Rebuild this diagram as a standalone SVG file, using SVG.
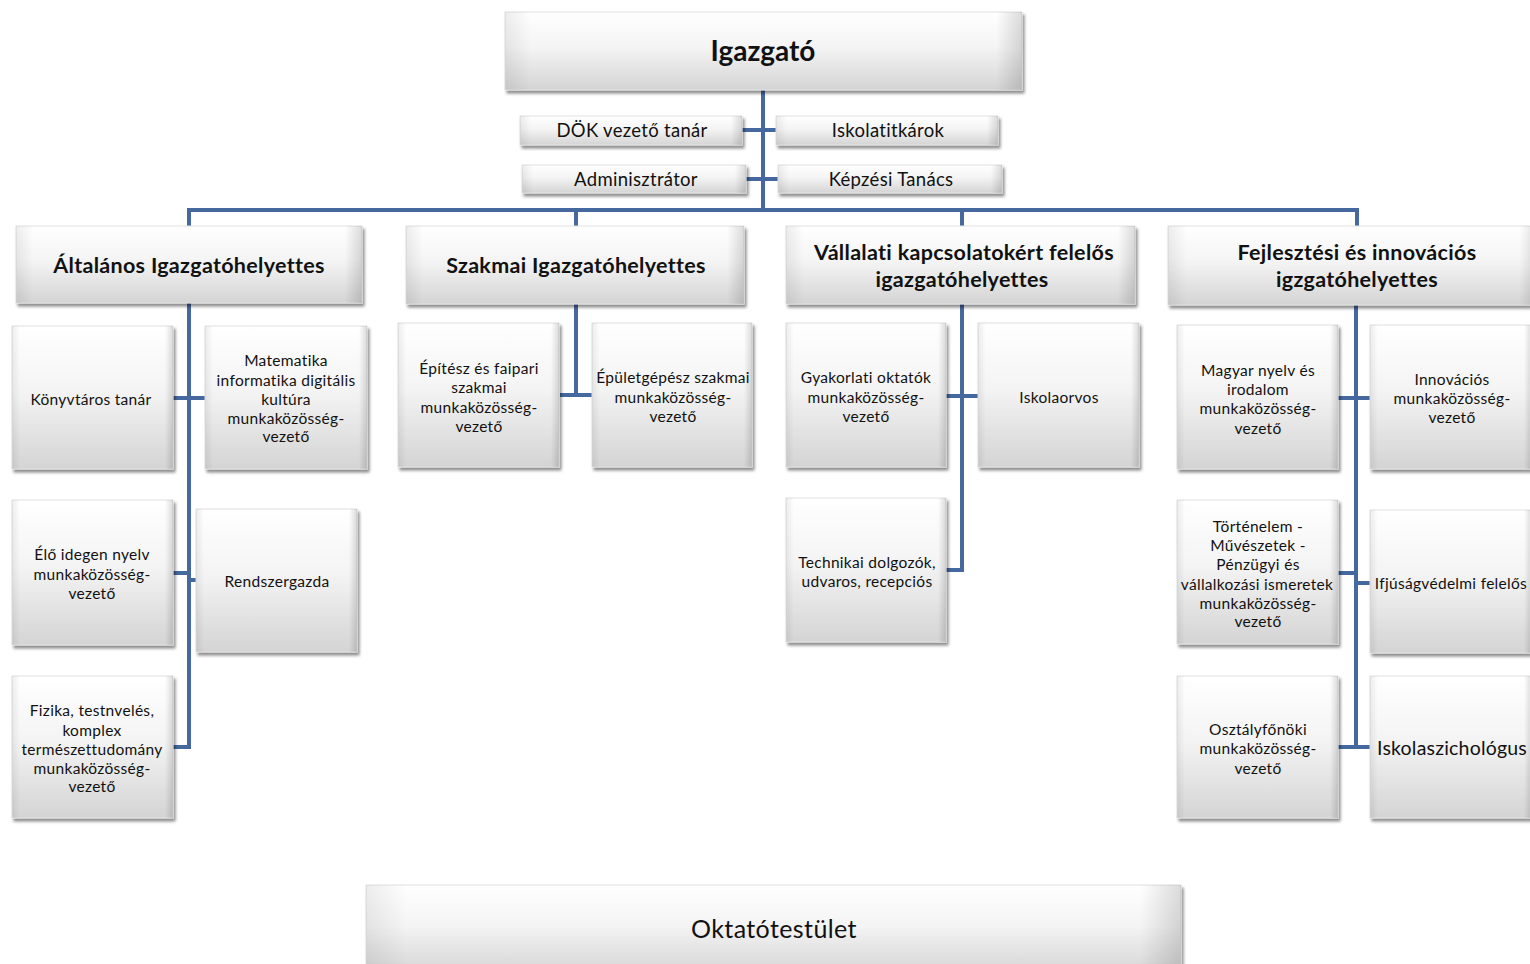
<svg xmlns="http://www.w3.org/2000/svg" width="1530" height="964" viewBox="0 0 1530 964">
<defs>
<linearGradient id="gv" x1="0" y1="0" x2="0" y2="1">
<stop offset="0" stop-color="#ffffff"/>
<stop offset="0.45" stop-color="#f4f4f4"/>
<stop offset="1" stop-color="#d4d4d4"/>
</linearGradient>
<linearGradient id="gh" x1="0" y1="0" x2="1" y2="0">
<stop offset="0" stop-color="#000" stop-opacity="0.07"/>
<stop offset="0.05" stop-color="#000" stop-opacity="0"/>
<stop offset="0.95" stop-color="#000" stop-opacity="0"/>
<stop offset="1" stop-color="#000" stop-opacity="0.14"/>
</linearGradient>
<filter id="sh" x="-10%" y="-10%" width="125%" height="130%">
<feDropShadow dx="2" dy="3" stdDeviation="1.8" flood-color="#000" flood-opacity="0.45"/>
</filter>
</defs>
<style>
.b{fill:url(#gv);stroke:#e2e2e2;stroke-width:1;filter:url(#sh)}
.o{fill:url(#gh)}
text{font-family:Lato,"Open Sans","Liberation Sans",sans-serif;fill:#111;text-anchor:middle;dominant-baseline:central}
.s{font-size:15.5px;letter-spacing:0.3px}
.m{font-size:18.5px;letter-spacing:0.3px}
.h{font-size:21.5px;font-weight:bold;letter-spacing:0.3px}
.t{font-size:28px;font-weight:bold}
.big{font-size:19.5px;letter-spacing:0.2px}
.ok{font-size:25px;letter-spacing:0.4px}
.c{fill:none;stroke:#45699f;stroke-width:4}
</style>
<rect width="1530" height="964" fill="#ffffff"/>

<g id="connectors">
<path class="c" d="M763 90V210"/>
<path class="c" d="M742 130H776"/>
<path class="c" d="M746 179H778"/>
<path class="c" d="M189 226V210H1357V226"/>
<path class="c" d="M576 210V226"/>
<path class="c" d="M962 210V226"/>
<path class="c" d="M189 303V747H173"/>
<path class="c" d="M173 398H205"/>
<path class="c" d="M173 573H189"/>
<path class="c" d="M189 580H196"/>
<path class="c" d="M576 304V395H560"/>
<path class="c" d="M576 395H592"/>
<path class="c" d="M962 304V570H946"/>
<path class="c" d="M946 396H978"/>
<path class="c" d="M1356 305V747H1338"/>
<path class="c" d="M1356 747H1370"/>
<path class="c" d="M1338 398H1370"/>
<path class="c" d="M1338 573H1356"/>
<path class="c" d="M1356 583H1370"/>
</g>

<g id="igazgato"><rect class="b" x="505" y="12" width="517" height="78"/><rect class="o" x="505" y="12" width="517" height="78"/><text class="t" x="763" y="50">Igazgató</text></g>

<g id="dok"><rect class="b" x="520" y="116" width="222" height="29"/><rect class="o" x="520" y="116" width="222" height="29"/><text class="m" x="632" y="130">DÖK vezető tanár</text></g>
<g id="iskolatitkarok"><rect class="b" x="776" y="116" width="222" height="29"/><rect class="o" x="776" y="116" width="222" height="29"/><text class="m" x="888" y="130">Iskolatitkárok</text></g>
<g id="adminisztrator"><rect class="b" x="522" y="165" width="224" height="28"/><rect class="o" x="522" y="165" width="224" height="28"/><text class="m" x="636" y="179">Adminisztrátor</text></g>
<g id="kepzesi"><rect class="b" x="778" y="165" width="224" height="28"/><rect class="o" x="778" y="165" width="224" height="28"/><text class="m" x="891" y="179">Képzési Tanács</text></g>

<g id="altalanos"><rect class="b" x="16" y="226" width="346" height="77"/><rect class="o" x="16" y="226" width="346" height="77"/><text class="h" x="189" y="265">Általános Igazgatóhelyettes</text></g>
<g id="szakmai"><rect class="b" x="406" y="226" width="338" height="78"/><rect class="o" x="406" y="226" width="338" height="78"/><text class="h" x="576" y="265">Szakmai  Igazgatóhelyettes</text></g>
<g id="vallalati"><rect class="b" x="786" y="226" width="349" height="78"/><rect class="o" x="786" y="226" width="349" height="78"/><text class="h" x="964" y="252">Vállalati kapcsolatokért  felelős</text><text class="h" x="962" y="279">igazgatóhelyettes</text></g>
<g id="fejlesztesi"><rect class="b" x="1168" y="226" width="370" height="79"/><rect class="o" x="1168" y="226" width="370" height="79"/><text class="h" x="1357" y="252">Fejlesztési és innovációs</text><text class="h" x="1357" y="279">igzgatóhelyettes</text></g>

<g id="konyvtaros"><rect class="b" x="12" y="326" width="161" height="143"/><rect class="o" x="12" y="326" width="161" height="143"/><text class="s" x="91" y="399">Könyvtáros tanár</text></g>
<g id="matematika"><rect class="b" x="205" y="326" width="162" height="143"/><rect class="o" x="205" y="326" width="162" height="143"/><text class="s" x="286" y="360">Matematika</text><text class="s" x="286" y="380">informatika digitális</text><text class="s" x="286" y="399">kultúra</text><text class="s" x="286" y="418">munkaközösség-</text><text class="s" x="286" y="436">vezető</text></g>
<g id="elo-idegen"><rect class="b" x="12" y="500" width="161" height="145"/><rect class="o" x="12" y="500" width="161" height="145"/><text class="s" x="92" y="554">Élő idegen nyelv</text><text class="s" x="92" y="574">munkaközösség-</text><text class="s" x="92" y="593">vezető</text></g>
<g id="rendszergazda"><rect class="b" x="196" y="509" width="161" height="143"/><rect class="o" x="196" y="509" width="161" height="143"/><text class="s" x="277" y="581">Rendszergazda</text></g>
<g id="fizika"><rect class="b" x="12" y="676" width="161" height="142"/><rect class="o" x="12" y="676" width="161" height="142"/><text class="s" x="92" y="710">Fizika, testnvelés,</text><text class="s" x="92" y="730">komplex</text><text class="s" x="92" y="749">természettudomány</text><text class="s" x="92" y="768">munkaközösség-</text><text class="s" x="92" y="786">vezető</text></g>

<g id="epitesz"><rect class="b" x="398" y="323" width="161" height="144"/><rect class="o" x="398" y="323" width="161" height="144"/><text class="s" x="479" y="368">Építész és faipari</text><text class="s" x="479" y="387">szakmai</text><text class="s" x="479" y="407">munkaközösség-</text><text class="s" x="479" y="426">vezető</text></g>
<g id="epuletgepesz"><rect class="b" x="592" y="323" width="160" height="144"/><rect class="o" x="592" y="323" width="160" height="144"/><text class="s" x="673" y="377">Épületgépész szakmai</text><text class="s" x="673" y="397">munkaközösség-</text><text class="s" x="673" y="416">vezető</text></g>

<g id="gyakorlati"><rect class="b" x="786" y="323" width="160" height="144"/><rect class="o" x="786" y="323" width="160" height="144"/><text class="s" x="866" y="377">Gyakorlati oktatók</text><text class="s" x="866" y="397">munkaközösség-</text><text class="s" x="866" y="416">vezető</text></g>
<g id="iskolaorvos"><rect class="b" x="978" y="323" width="161" height="144"/><rect class="o" x="978" y="323" width="161" height="144"/><text class="s" x="1059" y="397">Iskolaorvos</text></g>
<g id="technikai"><rect class="b" x="786" y="498" width="160" height="144"/><rect class="o" x="786" y="498" width="160" height="144"/><text class="s" x="867" y="562">Technikai dolgozók,</text><text class="s" x="867" y="581">udvaros, recepciós</text></g>

<g id="magyar"><rect class="b" x="1177" y="325" width="161" height="144"/><rect class="o" x="1177" y="325" width="161" height="144"/><text class="s" x="1258" y="370">Magyar nyelv és</text><text class="s" x="1258" y="389">irodalom</text><text class="s" x="1258" y="408">munkaközösség-</text><text class="s" x="1258" y="428">vezető</text></g>
<g id="innovacios"><rect class="b" x="1370" y="325" width="162" height="144"/><rect class="o" x="1370" y="325" width="162" height="144"/><text class="s" x="1452" y="379">Innovációs</text><text class="s" x="1452" y="398">munkaközösség-</text><text class="s" x="1452" y="417">vezető</text></g>
<g id="tortenelem"><rect class="b" x="1177" y="500" width="161" height="144"/><rect class="o" x="1177" y="500" width="161" height="144"/><text class="s" x="1258" y="526">Történelem -</text><text class="s" x="1258" y="545">Művészetek -</text><text class="s" x="1258" y="564">Pénzügyi és</text><text class="s" x="1257" y="584">vállalkozási ismeretek</text><text class="s" x="1258" y="603">munkaközösség-</text><text class="s" x="1258" y="621">vezető</text></g>
<g id="ifjusagvedelmi"><rect class="b" x="1370" y="510" width="162" height="143"/><rect class="o" x="1370" y="510" width="162" height="143"/><text class="s" x="1451" y="583">Ifjúságvédelmi  felelős</text></g>
<g id="osztalyfonoki"><rect class="b" x="1177" y="676" width="161" height="142"/><rect class="o" x="1177" y="676" width="161" height="142"/><text class="s" x="1258" y="729">Osztályfőnöki</text><text class="s" x="1258" y="748">munkaközösség-</text><text class="s" x="1258" y="768">vezető</text></g>
<g id="iskolaszichologus"><rect class="b" x="1370" y="676" width="162" height="142"/><rect class="o" x="1370" y="676" width="162" height="142"/><text class="big" x="1452" y="747">Iskolaszichológus</text></g>

<g id="oktatotestulet"><rect class="b" x="366" y="885" width="815" height="90"/><rect class="o" x="366" y="885" width="815" height="90"/><text class="ok" x="774" y="928">Oktatótestület</text></g>
</svg>
